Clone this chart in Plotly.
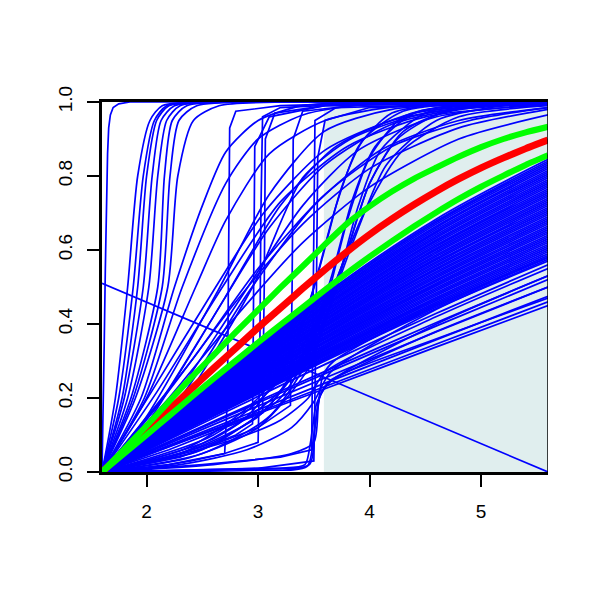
import plotly.graph_objects as go

# ---------------- data ----------------
X_TICKS = [2, 3, 4, 5]
Y_TICKS = [0.0, 0.2, 0.4, 0.6, 0.8, 1.0]
Y_TICK_TEXT = ["0.0", "0.2", "0.4", "0.6", "0.8", "1.0"]

SHADE_X = [3.59, 5.6]
SHADE_Y = [0.0, 1.0]

# summary curves (read on a 0.2 grid)
GRID_X = [1.6, 1.8, 2.0, 2.2, 2.4, 2.6, 2.8, 3.0, 3.2, 3.4, 3.6,
          3.8, 4.0, 4.2, 4.4, 4.6, 4.8, 5.0, 5.2, 5.4, 5.6]
MEAN_Y = [0.0, 0.056, 0.112, 0.168, 0.224, 0.28, 0.335, 0.39, 0.443, 0.496, 0.547,
          0.596, 0.642, 0.684, 0.723, 0.759, 0.792, 0.822, 0.849, 0.874, 0.897]
UPPER_Y = [0.0, 0.062, 0.125, 0.19, 0.255, 0.316, 0.378, 0.438, 0.498, 0.556, 0.615,
           0.672, 0.718, 0.758, 0.793, 0.823, 0.852, 0.878, 0.900, 0.918, 0.933]
LOWER_Y = [0.0, 0.05, 0.1, 0.151, 0.202, 0.252, 0.301, 0.35, 0.398, 0.445, 0.492,
           0.538, 0.582, 0.624, 0.664, 0.702, 0.738, 0.771, 0.801, 0.83, 0.856]

# straight decreasing line
DIAG_X = [1.6, 5.6]
DIAG_Y = [0.51, 0.0]

# dense bundle of near-linear curves
BUNDLE_X = [1.6, 2.6, 3.6, 4.6, 5.6]
BUNDLE_Y = [
    [0, 0.245, 0.481, 0.684, 0.845],
    [0, 0.243, 0.477, 0.679, 0.840],
    [0, 0.241, 0.474, 0.675, 0.835],
    [0, 0.239, 0.470, 0.670, 0.830],
    [0, 0.237, 0.467, 0.665, 0.825],
    [0, 0.235, 0.463, 0.661, 0.820],
    [0, 0.234, 0.460, 0.656, 0.815],
    [0, 0.232, 0.456, 0.651, 0.810],
    [0, 0.230, 0.452, 0.647, 0.805],
    [0, 0.228, 0.449, 0.642, 0.800],
    [0, 0.226, 0.446, 0.637, 0.795],
    [0, 0.224, 0.442, 0.633, 0.790],
    [0, 0.223, 0.438, 0.628, 0.785],
    [0, 0.221, 0.435, 0.624, 0.780],
    [0, 0.219, 0.432, 0.619, 0.775],
    [0, 0.217, 0.428, 0.614, 0.770],
    [0, 0.215, 0.425, 0.610, 0.765],
    [0, 0.214, 0.421, 0.605, 0.760],
    [0, 0.212, 0.418, 0.601, 0.755],
    [0, 0.210, 0.414, 0.596, 0.750],
    [0, 0.208, 0.411, 0.592, 0.745],
    [0, 0.206, 0.408, 0.587, 0.740],
    [0, 0.205, 0.404, 0.583, 0.735],
    [0, 0.203, 0.401, 0.578, 0.730],
    [0, 0.201, 0.397, 0.574, 0.725],
    [0, 0.199, 0.394, 0.569, 0.720],
    [0, 0.198, 0.391, 0.565, 0.715],
    [0, 0.196, 0.387, 0.560, 0.710],
    [0, 0.194, 0.384, 0.556, 0.705],
    [0, 0.193, 0.381, 0.551, 0.700],
    [0, 0.191, 0.377, 0.547, 0.695],
    [0, 0.189, 0.374, 0.542, 0.690],
    [0, 0.187, 0.371, 0.538, 0.685],
    [0, 0.186, 0.367, 0.533, 0.680],
    [0, 0.184, 0.364, 0.529, 0.675],
    [0, 0.182, 0.361, 0.525, 0.670],
    [0, 0.181, 0.358, 0.520, 0.665],
    [0, 0.179, 0.354, 0.516, 0.660],
    [0, 0.177, 0.351, 0.511, 0.655],
    [0, 0.176, 0.348, 0.507, 0.650],
    [0, 0.174, 0.344, 0.503, 0.645],
    [0, 0.172, 0.341, 0.498, 0.640],
    [0, 0.170, 0.338, 0.494, 0.635],
    [0, 0.169, 0.335, 0.490, 0.630],
    [0, 0.167, 0.332, 0.485, 0.625],
    [0, 0.166, 0.328, 0.481, 0.620],
    [0, 0.164, 0.325, 0.477, 0.615],
    [0, 0.162, 0.322, 0.472, 0.610],
    [0, 0.161, 0.319, 0.468, 0.605],
    [0, 0.159, 0.316, 0.464, 0.600],
    [0, 0.157, 0.313, 0.459, 0.595],
    [0, 0.156, 0.309, 0.455, 0.590],
    [0, 0.154, 0.306, 0.451, 0.585],
    [0, 0.153, 0.303, 0.446, 0.580],
    [0, 0.151, 0.300, 0.442, 0.575],
    [0, 0.146, 0.291, 0.429, 0.560],
    [0, 0.137, 0.272, 0.404, 0.530],
    [0, 0.134, 0.266, 0.395, 0.520],
    [0, 0.128, 0.254, 0.379, 0.500],
    [0, 0.120, 0.240, 0.358, 0.475],
    [0, 0.115, 0.231, 0.346, 0.460],
    [0, 0.113, 0.225, 0.338, 0.450],
]

# smooth curves (steep early, mid sweeps, upper, late convex, low)
SMOOTH_X = [
    [1.6, 1.72, 1.83, 1.92, 2.03, 2.14, 2.45, 5.6],
    [1.6, 1.75, 1.88, 1.97, 2.07, 2.18, 2.55, 5.6],
    [1.6, 1.78, 1.92, 2.00, 2.09, 2.20, 2.6, 5.6],
    [1.6, 1.80, 1.97, 2.05, 2.13, 2.25, 2.7, 5.6],
    [1.6, 1.83, 2.02, 2.10, 2.18, 2.30, 2.8, 5.6],
    [1.6, 1.86, 2.10, 2.16, 2.23, 2.36, 2.9, 5.6],
    [1.6, 1.88, 2.14, 2.21, 2.29, 2.45, 3.1, 5.6],
    [1.6, 1.90, 2.19, 2.28, 2.42, 2.65, 3.3, 5.6],
    [1.6, 1.95, 2.25, 2.50, 2.71, 3.0, 3.4, 4.0, 5.6],
    [1.6, 1.98, 2.32, 2.71, 3.0, 3.4, 4.0, 5.6],
    [1.6, 2.0, 2.44, 2.71, 3.1, 3.6, 4.3, 5.6],
    [1.6, 2.05, 2.62, 3.05, 3.6, 4.2, 5.0, 5.6],
    [1.6, 2.1, 2.68, 3.2, 3.8, 4.5, 5.6],
    [1.6, 2.0, 2.64, 3.1, 3.59, 4.2, 5.6],
    [1.6, 2.0, 2.7, 3.2, 3.7, 4.4, 5.6],
    [1.6, 2.1, 2.8, 3.4, 3.9, 4.6, 5.6],
    [1.6, 2.2, 2.95, 3.4, 3.83, 4.5, 5.6],
    [1.6, 2.1, 2.6, 3.1, 3.6, 4.2, 5.0, 5.6],
    [1.6, 2.3, 2.9, 3.5, 4.1, 4.8, 5.6],
    [1.6, 2.2, 2.8, 3.4, 4.0, 4.8, 5.6],
    [1.6, 2.2, 2.8, 3.4, 4.0, 4.8, 5.6],
    [1.6, 2.4, 3.0, 3.6, 4.2, 4.9, 5.6],
    [1.6, 2.4, 3.0, 3.4, 3.6, 3.8, 4.0, 4.3, 4.8, 5.6],
    [1.6, 2.4, 3.0, 3.45, 3.7, 3.9, 4.1, 4.5, 5.0, 5.6],
    [1.6, 2.5, 3.1, 3.5, 3.75, 4.0, 4.3, 4.8, 5.6],
    [1.6, 2.6, 3.2, 3.55, 3.85, 4.15, 4.6, 5.2, 5.6],
    [1.6, 2.3, 2.9, 3.3, 3.5, 3.7, 3.9, 4.2, 4.7, 5.6],
    [1.6, 2.6, 3.2, 3.6, 3.95, 4.3, 4.8, 5.6],
    [1.6, 2.5, 3.1, 3.45, 3.65, 3.85, 4.05, 4.4, 5.0, 5.6],
    [1.6, 2.6, 3.2, 3.55, 3.8, 4.0, 4.25, 4.6, 5.2, 5.6],
    [1.6, 2.4, 3.0, 3.35, 3.55, 3.75, 3.95, 4.3, 4.9, 5.6],
    [1.6, 2.2, 2.8, 3.2, 3.45, 3.6, 4.6, 5.6],
    [1.6, 2.3, 2.9, 3.3, 3.5, 3.65, 4.6, 5.6],
    [1.6, 2.5, 3.2, 3.42, 3.47, 3.52, 3.6, 3.7, 4.6, 5.6],
    [1.6, 3.0, 3.44, 3.5, 3.55, 3.65, 4.6, 5.6],
    [1.6, 3.0, 3.46, 3.51, 3.56, 3.66, 4.6, 5.6],
    [1.6, 2.6, 3.3, 3.5, 3.54, 3.58, 3.68, 4.6, 5.6],
]
SMOOTH_Y = [
    [0, 0.2, 0.5, 0.8, 0.95, 0.99, 1.0, 1.0],
    [0, 0.2, 0.5, 0.8, 0.95, 0.99, 1.0, 1.0],
    [0, 0.2, 0.5, 0.8, 0.95, 0.99, 1.0, 1.0],
    [0, 0.2, 0.5, 0.8, 0.95, 0.99, 1.0, 1.0],
    [0, 0.2, 0.5, 0.8, 0.95, 0.99, 1.0, 1.0],
    [0, 0.2, 0.5, 0.8, 0.95, 0.99, 1.0, 1.0],
    [0, 0.2, 0.5, 0.8, 0.95, 0.99, 1.0, 1.0],
    [0, 0.2, 0.5, 0.8, 0.95, 0.99, 1.0, 1.0],
    [0, 0.2, 0.5, 0.72, 0.865, 0.95, 0.99, 1.0, 1.0],
    [0, 0.2, 0.5, 0.78, 0.9, 0.965, 0.995, 1.0],
    [0, 0.2, 0.5, 0.68, 0.86, 0.95, 0.99, 1.0],
    [0, 0.22, 0.5, 0.7, 0.87, 0.95, 0.99, 0.997],
    [0, 0.22, 0.5, 0.73, 0.88, 0.96, 0.993],
    [0, 0.15, 0.49, 0.75, 0.92, 0.98, 1.0],
    [0, 0.13, 0.47, 0.72, 0.88, 0.97, 0.998],
    [0, 0.14, 0.45, 0.72, 0.87, 0.96, 0.995],
    [0, 0.14, 0.5, 0.795, 0.90, 0.97, 0.995],
    [0, 0.18, 0.42, 0.66, 0.83, 0.94, 0.99, 0.998],
    [0, 0.2, 0.48, 0.72, 0.87, 0.95, 0.985],
    [0, 0.2, 0.42, 0.62, 0.77, 0.9, 0.965],
    [0, 0.22, 0.46, 0.67, 0.82, 0.93, 0.98],
    [0, 0.3, 0.55, 0.75, 0.88, 0.95, 0.985],
    [0, 0.06, 0.15, 0.3, 0.45, 0.68, 0.85, 0.96, 0.993, 1.0],
    [0, 0.04, 0.12, 0.28, 0.5, 0.72, 0.87, 0.97, 0.995, 1.0],
    [0, 0.05, 0.15, 0.33, 0.55, 0.78, 0.92, 0.985, 1.0],
    [0, 0.08, 0.2, 0.38, 0.62, 0.83, 0.95, 0.99, 0.997],
    [0, 0.05, 0.15, 0.32, 0.5, 0.72, 0.88, 0.97, 0.996, 1.0],
    [0, 0.1, 0.25, 0.45, 0.7, 0.87, 0.96, 0.99],
    [0, 0.06, 0.18, 0.35, 0.52, 0.74, 0.88, 0.97, 0.995, 1.0],
    [0, 0.09, 0.22, 0.4, 0.6, 0.78, 0.9, 0.965, 0.995, 1.0],
    [0, 0.07, 0.2, 0.36, 0.55, 0.77, 0.9, 0.975, 0.997, 1.0],
    [0, 0.04, 0.09, 0.14, 0.2, 0.27, 0.42, 0.55],
    [0, 0.02, 0.06, 0.12, 0.19, 0.27, 0.44, 0.57],
    [0, 0.005, 0.01, 0.02, 0.08, 0.18, 0.23, 0.255, 0.38, 0.50],
    [0, 0.005, 0.015, 0.1, 0.2, 0.245, 0.40, 0.53],
    [0, 0.01, 0.02, 0.12, 0.21, 0.25, 0.36, 0.47],
    [0, 0.02, 0.05, 0.08, 0.18, 0.26, 0.3, 0.45, 0.58],
]

# curves with abrupt jumps (drawn with straight segments)
JUMP_X = [
    [1.6, 1.61, 1.62, 1.63, 1.64, 1.65, 1.66, 1.675, 1.7, 1.75, 1.85, 5.6],
    [1.6, 2.0, 2.4, 2.7, 2.725, 2.735, 2.745, 2.8, 3.2, 4.0, 5.6],
    [1.6, 2.2, 2.7, 3.0, 3.015, 3.025, 3.04, 3.2, 4.0, 5.6],
    [1.6, 2.2, 2.7, 3.04, 3.055, 3.065, 3.15, 3.6, 5.6],
    [1.6, 2.4, 3.0, 3.29, 3.305, 3.315, 3.4, 4.0, 5.6],
    [1.6, 2.5, 3.2, 3.48, 3.495, 3.51, 3.7, 5.6],
    [1.6, 3.0, 3.5, 3.52, 3.535, 3.6, 4.0, 5.6],
    [1.6, 2.3, 2.8, 2.95, 2.96, 2.97, 3.1, 3.6, 5.6],
]
JUMP_Y = [
    [0, 0.15, 0.35, 0.55, 0.72, 0.86, 0.93, 0.965, 0.985, 0.995, 1.0, 1.0],
    [0, 0.01, 0.03, 0.05, 0.2, 0.6, 0.93, 0.975, 0.99, 0.997, 1.0],
    [0, 0.02, 0.05, 0.08, 0.3, 0.7, 0.96, 0.985, 0.997, 1.0],
    [0, 0.06, 0.12, 0.16, 0.5, 0.9, 0.97, 0.99, 1.0],
    [0, 0.05, 0.12, 0.18, 0.5, 0.9, 0.975, 0.995, 1.0],
    [0, 0.02, 0.04, 0.06, 0.5, 0.95, 0.985, 1.0],
    [0, 0.01, 0.03, 0.4, 0.85, 0.95, 0.985, 0.998],
    [0, 0.04, 0.1, 0.13, 0.5, 0.88, 0.96, 0.99, 1.0],
]

BLUE = "#0000FF"
RED = "#FF0000"
GREEN = "#00FF00"


def joined(xs_list, ys_list):
    X, Y = [], []
    for xs, ys in zip(xs_list, ys_list):
        X += list(xs) + [None]
        Y += list(ys) + [None]
    return X, Y


fig = go.Figure()

bx, by = joined([BUNDLE_X] * len(BUNDLE_Y), BUNDLE_Y)
fig.add_trace(go.Scatter(x=bx, y=by, mode="lines",
                         line=dict(color=BLUE, width=1.8, shape="spline", smoothing=0.9)))
sx, sy = joined(SMOOTH_X, SMOOTH_Y)
fig.add_trace(go.Scatter(x=sx, y=sy, mode="lines",
                         line=dict(color=BLUE, width=1.7, shape="spline", smoothing=0.7)))
jx, jy = joined(JUMP_X, JUMP_Y)
fig.add_trace(go.Scatter(x=jx, y=jy, mode="lines",
                         line=dict(color=BLUE, width=1.7)))
fig.add_trace(go.Scatter(x=DIAG_X, y=DIAG_Y, mode="lines",
                         line=dict(color=BLUE, width=1.7)))

fig.add_trace(go.Scatter(x=GRID_X, y=MEAN_Y, mode="lines",
                         line=dict(color=RED, width=7, shape="spline", smoothing=0.6)))
fig.add_trace(go.Scatter(x=GRID_X, y=UPPER_Y, mode="lines",
                         line=dict(color=GREEN, width=6, shape="spline", smoothing=0.6)))
fig.add_trace(go.Scatter(x=GRID_X, y=LOWER_Y, mode="lines",
                         line=dict(color=GREEN, width=6, shape="spline", smoothing=0.6)))

fig.add_shape(type="rect", xref="x", yref="y",
              x0=SHADE_X[0], x1=SHADE_X[1], y0=SHADE_Y[0], y1=SHADE_Y[1],
              fillcolor="#E0EEEE", line=dict(width=0), layer="below")
fig.add_shape(type="line", xref="x", yref="y", x0=5.6, x1=5.6, y0=0, y1=1,
              line=dict(color="black", width=1.5))

font = dict(family="Liberation Sans, Arial, sans-serif", size=19, color="black")
fig.update_layout(
    width=600, height=600,
    margin=dict(l=94, r=60, t=94, b=136),
    plot_bgcolor="white", paper_bgcolor="white",
    showlegend=False, hovermode=False, font=font,
    xaxis=dict(range=[1.6, 5.6], tickvals=X_TICKS, ticks="outside", ticklen=12,
               tickwidth=2, tickcolor="black", showline=True, linewidth=2.5,
               linecolor="black", mirror=True, showgrid=False, zeroline=False,
               ticklabelstandoff=8, tickfont=font),
    yaxis=dict(range=[0, 1], tickvals=Y_TICKS, ticktext=Y_TICK_TEXT, tickangle=-90,
               ticks="outside", ticklen=12, tickwidth=2, tickcolor="black",
               showline=True, linewidth=2.5, linecolor="black", mirror=False,
               showgrid=False, zeroline=False, ticklabelstandoff=8, tickfont=font),
)

fig.write_html("out.html")
